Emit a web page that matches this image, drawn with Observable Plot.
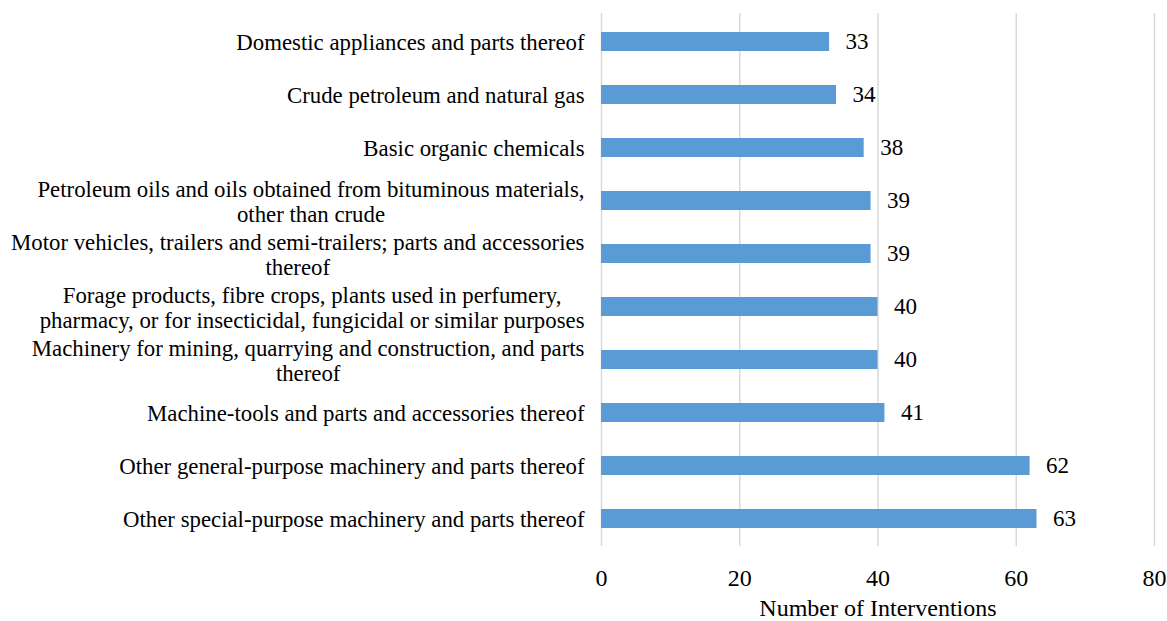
<!DOCTYPE html>
<html><head><meta charset="utf-8">
<script src="https://cdn.jsdelivr.net/npm/d3@7"></script>
<script src="https://cdn.jsdelivr.net/npm/@observablehq/plot@0.6"></script>
<style>html,body{margin:0;padding:0;background:#fff} svg{display:block}</style>
</head><body><div id="chart"></div>
<script>
const categories = [
  "Domestic appliances and parts thereof",
  "Crude petroleum and natural gas",
  "Basic organic chemicals",
  "Petroleum oils and oils obtained from bituminous materials,\nother than crude",
  "Motor vehicles, trailers and semi-trailers; parts and accessories\nthereof",
  "Forage products, fibre crops, plants used in perfumery,\npharmacy, or for insecticidal, fungicidal or similar purposes",
  "Machinery for mining, quarrying and construction, and parts\nthereof",
  "Machine-tools and parts and accessories thereof",
  "Other general-purpose machinery and parts thereof",
  "Other special-purpose machinery and parts thereof"
];
const values = [33, 34, 38, 39, 39, 40, 40, 41, 62, 63];
const xTicks = [0, 20, 40, 60, 80];
const xLabel = "Number of Interventions";

const data = categories.map((c, i) => ({category: c, value: values[i]}));
const FONT = "'Liberation Serif','Times New Roman',serif";
const labelSize = 22.8;
const ctx = document.createElement("canvas").getContext("2d");
ctx.font = `${labelSize}px ${FONT}`;
const blockWidth = s => Math.max(...s.split("\n").map(l => ctx.measureText(l).width));

const labelMarks = data.map(d => Plot.text([d], {
  frameAnchor: "left", y: "category", text: "category",
  textAnchor: "middle", lineAnchor: "middle", lineHeight: 1.1,
  dx: -(17 + blockWidth(d.category) / 2), fontSize: labelSize, fill: "#000"
}));

const chart = Plot.plot({
  width: 1167, height: 621,
  marginLeft: 601, marginRight: 13, marginTop: 13, marginBottom: 75,
  style: {fontFamily: FONT, color: "#000", background: "#fff"},
  x: {domain: [0, 80], axis: null},
  y: {domain: categories, paddingInner: 0.65, paddingOuter: 0.325, axis: null},
  marks: [
    Plot.gridX(xTicks, {stroke: "#d9d9d9", strokeWidth: 1.5, strokeOpacity: 1}),
    Plot.barX(data, {x: "value", y: "category", fill: "#5b9bd5"}),
    Plot.text(data, {x: "value", y: "category", text: d => String(d.value), textAnchor: "start", dx: 16, fontSize: 23, fill: "#000"}),
    Plot.axisX(xTicks, {tickSize: 0, tickPadding: 22, fontSize: 24, label: null, tickFormat: d => String(d)}),
    Plot.text([xLabel], {frameAnchor: "bottom", dy: 62, lineAnchor: "middle", fontSize: 24, fill: "#000"}),
    ...labelMarks
  ]
});
document.getElementById("chart").append(chart);
</script>
</body></html>
